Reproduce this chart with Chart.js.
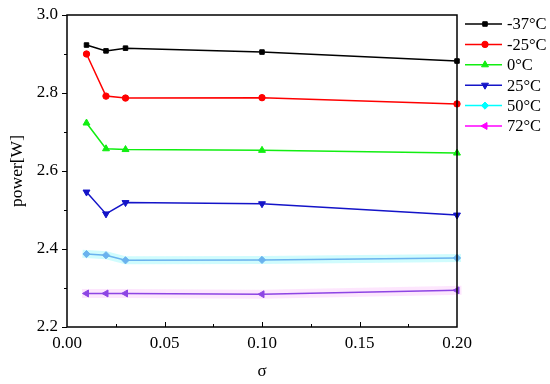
<!DOCTYPE html>
<html>
<head>
<meta charset="utf-8">
<script src="https://cdn.jsdelivr.net/npm/chart.js@4/dist/chart.umd.min.js"></script>
<style>
html,body{margin:0;padding:0;background:#fff;}
#wrap{width:550px;height:384px;}
</style>
</head>
<body>
<div id="wrap"><canvas id="c" width="550" height="384"></canvas></div>
<script>
const sigma = [0.01, 0.02, 0.03, 0.10, 0.20];
const seriesNames = ['-37°C', '-25°C', '0°C', '25°C', '50°C', '72°C'];
const pm37 = [2.923, 2.908, 2.915, 2.905, 2.882];
const pm25 = [2.900, 2.792, 2.787, 2.788, 2.772];
const p0   = [2.723, 2.657, 2.655, 2.653, 2.646];
const p25  = [2.546, 2.490, 2.519, 2.516, 2.487];
const p50  = [2.387, 2.384, 2.371, 2.372, 2.377];
const p72  = [2.286, 2.286, 2.286, 2.284, 2.294];
const yTicks = [2.2, 2.4, 2.6, 2.8, 3.0];
const xTicks = [0.00, 0.05, 0.10, 0.15, 0.20];

const lineColors   = ['#000000', '#ff0000', '#11ee11', '#1414c8', '#6ab2ee', '#8d45e4'];
const legendColors = ['#000000', '#ff0000', '#11ee11', '#1414c8', '#00ffff', '#ff00ff'];
const styles = ['rect', 'circle', 'triangle', 'triangle', 'rectRot', 'triangle'];
const rots = [0, 0, 0, 180, 0, 270];
const radii = [3.2, 3.2, 4, 4, 3.6, 4];
const allData = [pm37, pm25, p0, p25, p50, p72];

const pts = arr => arr.map((v, i) => ({x: sigma[i], y: v}));

const datasets = [];
datasets.push({label: '_band50', data: pts(p50), borderColor: 'rgba(120,245,250,0.35)', borderWidth: 8, pointRadius: 0, borderCapStyle: 'square', clip: false, order: 10});
datasets.push({label: '_band72', data: pts(p72), borderColor: 'rgba(250,200,250,0.45)', borderWidth: 9, pointRadius: 0, borderCapStyle: 'square', clip: false, order: 10});
allData.forEach((arr, k) => {
  datasets.push({
    label: seriesNames[k], data: pts(arr),
    borderColor: lineColors[k], backgroundColor: lineColors[k],
    borderWidth: 1.5, pointStyle: styles[k], pointRotation: rots[k], pointRadius: radii[k],
    pointBorderWidth: 1, pointBorderColor: lineColors[k], pointBackgroundColor: lineColors[k],
    tension: 0, clip: false, order: 1
  });
});

const FONT = "'Liberation Serif', 'Times New Roman', serif";

const framePlugin = {
  id: 'frame',
  afterDraw(chart) {
    const ctx = chart.ctx, a = chart.chartArea;
    const xs = chart.scales.x, ys = chart.scales.y;
    ctx.save();
    ctx.strokeStyle = '#000';
    ctx.lineWidth = 1.5;
    ctx.strokeRect(a.left, a.top, a.right - a.left, a.bottom - a.top);
    ctx.lineWidth = 1;
    ctx.beginPath();
    for (let i = 0; i <= 8; i++) {
      const v = 2.2 + i * 0.1;
      const y = Math.round(ys.getPixelForValue(v)) + 0.5;
      const major = i % 2 === 0;
      ctx.moveTo(a.left, y); ctx.lineTo(a.left - (major ? 5 : 3), y);
    }
    for (let i = 1; i < 8; i++) {
      const v = i * 0.025;
      const x = Math.round(xs.getPixelForValue(v)) + 0.5;
      const major = i % 2 === 0;
      ctx.moveTo(x, a.bottom); ctx.lineTo(x, a.bottom - (major ? 5 : 3));
    }
    ctx.stroke();

    const lx0 = a.right + 8, lx1 = a.right + 45, mx = a.right + 28, tx = a.right + 50;
    ctx.font = '16.5px ' + FONT;
    ctx.textBaseline = 'middle';
    ctx.textAlign = 'left';
    seriesNames.forEach((name, k) => {
      const y = 24 + k * 20.4;
      ctx.strokeStyle = legendColors[k];
      ctx.lineWidth = 1.5;
      ctx.beginPath(); ctx.moveTo(lx0, y); ctx.lineTo(lx1, y); ctx.stroke();
      ctx.fillStyle = legendColors[k];
      ctx.strokeStyle = legendColors[k];
      ctx.lineWidth = 1;
      Chart.helpers.drawPoint(ctx, {pointStyle: styles[k], rotation: rots[k], radius: radii[k], borderWidth: 1}, mx, y);
      ctx.fillStyle = '#000';
      ctx.fillText(name, tx, y + 1);
    });
    ctx.restore();
  }
};

new Chart(document.getElementById('c'), {
  type: 'line',
  data: {datasets},
  options: {
    responsive: false,
    animation: false,
    events: [],
    layout: {padding: {left: 0, top: 15, right: 93, bottom: 0}},
    plugins: {legend: {display: false}, tooltip: {enabled: false}},
    scales: {
      x: {
        type: 'linear', min: 0, max: 0.2,
        afterBuildTicks: s => { s.ticks = xTicks.map(v => ({value: v})); },
        afterFit: s => { s.height = 57; s.paddingLeft = 0; s.paddingRight = 0; },
        grid: {display: false, drawTicks: false, tickLength: 0},
        border: {display: false},
        ticks: {color: '#000', font: {family: FONT, size: 17}, padding: 6, maxRotation: 0,
          callback: v => Number(v).toFixed(2)},
        title: {display: true, text: 'σ', color: '#000', font: {family: FONT, size: 17}, padding: {top: 0, bottom: 2}}
      },
      y: {
        type: 'linear', min: 2.2, max: 3.0,
        afterBuildTicks: s => { s.ticks = yTicks.map(v => ({value: v})); },
        afterFit: s => { s.width = 67; s.paddingTop = 0; s.paddingBottom = 0; },
        grid: {display: false, drawTicks: false, tickLength: 0},
        border: {display: false},
        ticks: {color: '#000', font: {family: FONT, size: 17}, padding: 9,
          callback: v => Number(v).toFixed(1)},
        title: {display: true, text: 'power[W]', color: '#000', font: {family: FONT, size: 17.5}, padding: {top: 7, bottom: 0}}
      }
    }
  },
  plugins: [framePlugin]
});
</script>
</body>
</html>
